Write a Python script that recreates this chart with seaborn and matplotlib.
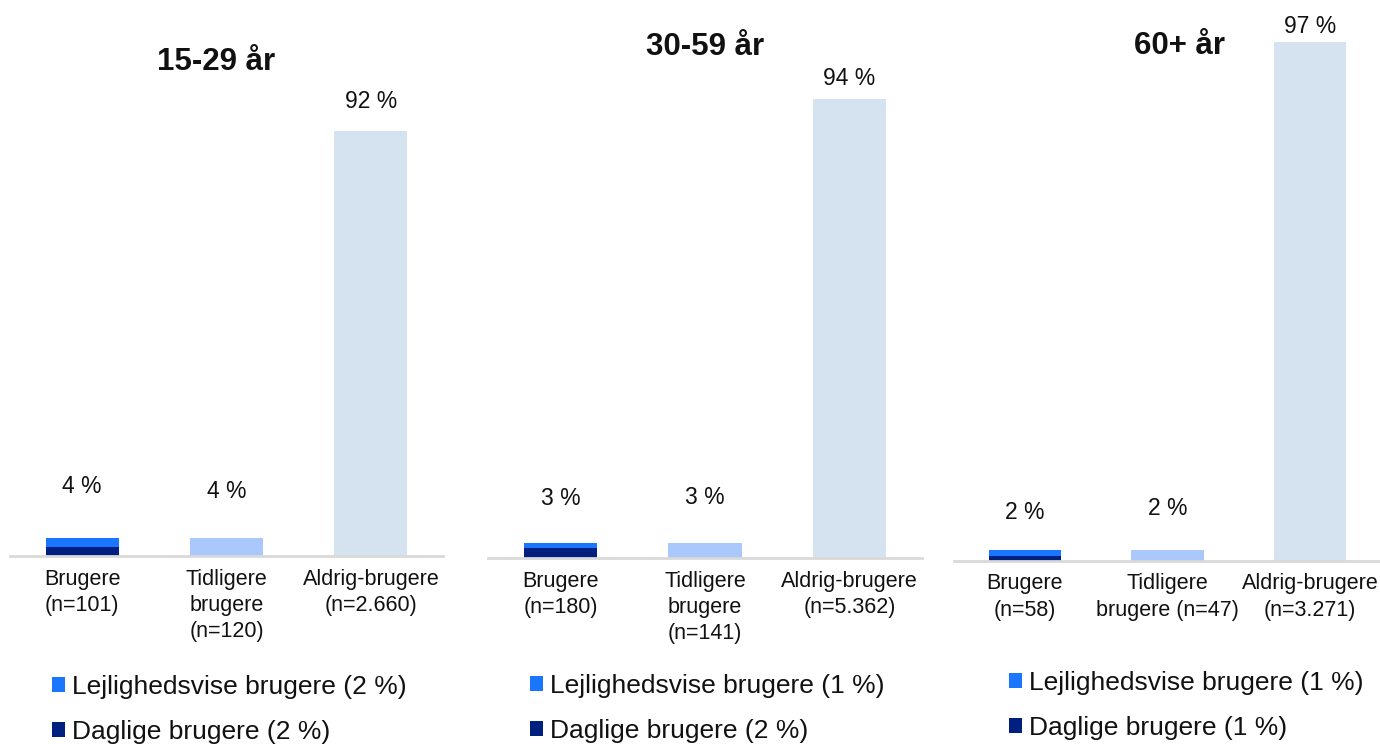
import matplotlib
matplotlib.use("Agg")
import matplotlib.pyplot as plt
from matplotlib.patches import Patch
import seaborn as sns
import pandas as pd

# ---- data ----
panel_titles = ["15-29 år", "30-59 år", "60+ år"]
categories = ["Brugere", "Tidligere brugere", "Aldrig-brugere"]
tick_labels = [
    ["Brugere\n(n=101)", "Tidligere\nbrugere\n(n=120)", "Aldrig-brugere\n(n=2.660)"],
    ["Brugere\n(n=180)", "Tidligere\nbrugere\n(n=141)", "Aldrig-brugere\n(n=5.362)"],
    ["Brugere\n(n=58)", "Tidligere\nbrugere (n=47)", "Aldrig-brugere\n(n=3.271)"],
]
daglige = [2, 2, 1]            # % daily users (part of Brugere)
lejlighedsvise = [2, 1, 1]     # % occasional users (part of Brugere)
tidligere = [4, 3, 2]          # % former users
aldrig = [92, 94, 97]          # % never users

# ---- style ----
c_lej = "#1a75ff"
c_dag = "#00207f"
c_tid = "#abc8fd"
c_ald = "#d5e3f1"

sns.set_theme(style="white")
plt.rcParams["font.family"] = ["Liberation Sans", "DejaVu Sans"]

W, H = 1380, 744
fig = plt.figure(figsize=(W / 100, H / 100), dpi=100)

# axes boxes in pixels: left, baseline(from top), width, height
boxes = [(10, 556, 433, 462), (488.5, 558, 433, 488), (953.75, 561, 427.5, 535)]
title_pos = [(216, 62), (705, 47), (1179, 46)]
legend_pos = [(52, 675), (530, 674), (1009, 671)]
label_offsets = [[37, 33, 21], [32, 33, 15], [27, 30, 11]]  # points above bar top

for i in range(3):
    l, b, w, h = boxes[i]
    ax = fig.add_axes([l / W, (H - b) / H, w / W, h / H])
    totals = [daglige[i] + lejlighedsvise[i], tidligere[i], aldrig[i]]
    df = pd.DataFrame({"cat": categories, "val": totals})
    sns.barplot(data=df, x="cat", y="val", hue="cat", order=categories,
                palette=[c_lej, c_tid, c_ald], legend=False, width=0.507,
                saturation=1, linewidth=0, edgecolor="none", ax=ax)
    df2 = pd.DataFrame({"cat": [categories[0]], "val": [daglige[i]]})
    sns.barplot(data=df2, x="cat", y="val", order=categories, color=c_dag,
                width=0.507, saturation=1, linewidth=0, edgecolor="none", ax=ax)
    ax.set_xlim(-0.5, 2.5)
    ax.set_ylim(0, 100)
    ax.set_xlabel("")
    ax.set_ylabel("")
    ax.set_yticks([])
    ax.set_xticks(range(3))
    ax.set_xticklabels(tick_labels[i], fontsize=15.5, color="#111111",
                       linespacing=1.32)
    ax.tick_params(axis="x", length=0, pad=9)
    for s in ["top", "right", "left"]:
        ax.spines[s].set_visible(False)
    ax.spines["bottom"].set_color("#d9d9d9")
    ax.spines["bottom"].set_linewidth(2)
    ax.patch.set_alpha(0)

    for j, v in enumerate(totals):
        ax.annotate(f"{v} %", xy=(j, v), xytext=(0, label_offsets[i][j]),
                    textcoords="offset points", ha="center", va="center",
                    fontsize=16.5, color="#111111")

    tx, ty = title_pos[i]
    fig.text(tx / W, 1 - ty / H, panel_titles[i], ha="center", va="center",
             fontsize=22.5, fontweight="bold", color="#111111")

    handles = [Patch(facecolor=c_lej, linewidth=0), Patch(facecolor=c_dag, linewidth=0)]
    labels = [f"Lejlighedsvise brugere ({lejlighedsvise[i]} %)",
              f"Daglige brugere ({daglige[i]} %)"]
    lx, ly = legend_pos[i]
    ax.legend(handles, labels, loc="upper left",
              bbox_to_anchor=(lx / W, 1 - ly / H), bbox_transform=fig.transFigure,
              frameon=False, fontsize=19, handlelength=0.5, handleheight=0.5,
              handletextpad=0.25, labelspacing=0.78, borderpad=0, borderaxespad=0,
              labelcolor="#111111")

fig.savefig("out.png", dpi=100)
